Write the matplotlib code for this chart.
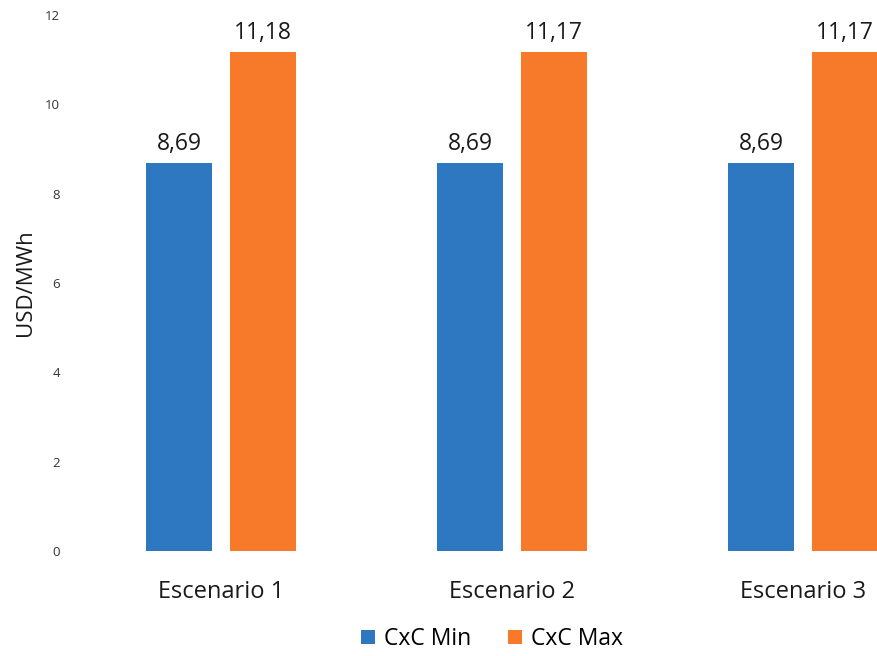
import matplotlib.pyplot as plt
import numpy as np

# CxC values per scenario (USD/MWh)
escenarios = ["Escenario 1", "Escenario 2", "Escenario 3"]
cxc_min = [8.69, 8.69, 8.69]
cxc_max = [11.18, 11.17, 11.17]
etiquetas_min = ["8,69", "8,69", "8,69"]
etiquetas_max = ["11,18", "11,17", "11,17"]

AZUL = "#2E78C2"
NARANJA = "#F77A2A"

plt.rcParams["font.family"] = ["Open Sans", "DejaVu Sans"]

fig = plt.figure(figsize=(8.78, 6.56), dpi=100)
ax = fig.add_axes([75 / 878, 105 / 656, 803 / 878, 536 / 656])

x = np.arange(len(escenarios))
w = 0.227
off = 0.1435
b1 = ax.bar(x - off, cxc_min, w, color=AZUL, label="CxC Min")
b2 = ax.bar(x + off, cxc_max, w, color=NARANJA, label="CxC Max")

for bars, labels in ((b1, etiquetas_min), (b2, etiquetas_max)):
    for rect, txt in zip(bars, labels):
        ax.annotate(txt, (rect.get_x() + rect.get_width() / 2, rect.get_height()),
                    xytext=(0, 5), textcoords="offset points",
                    ha="center", va="bottom", fontsize=16.5, color="#1a1a1a")

ax.set_xlim(-0.502, 2.258)
ax.set_ylim(0, 12)
ax.set_yticks(range(0, 13, 2))
ax.tick_params(axis="y", length=0, labelsize=9.5, labelcolor="#333333", pad=11)
ax.set_xticks(x)
ax.set_xticklabels(escenarios)
ax.tick_params(axis="x", length=0, labelsize=17, labelcolor="#1a1a1a", pad=21)
for s in ax.spines.values():
    s.set_visible(False)

ax.set_ylabel("USD/MWh", fontsize=16, color="#1a1a1a", labelpad=6)

fig.legend(handles=[b1, b2], loc="center", bbox_to_anchor=(492 / 878, 1 - 639 / 656),
           ncol=2, frameon=False, fontsize=16.5, handlelength=0.6, handleheight=0.6,
           handletextpad=0.4, columnspacing=1.6)

fig.savefig("out.png", dpi=100)
